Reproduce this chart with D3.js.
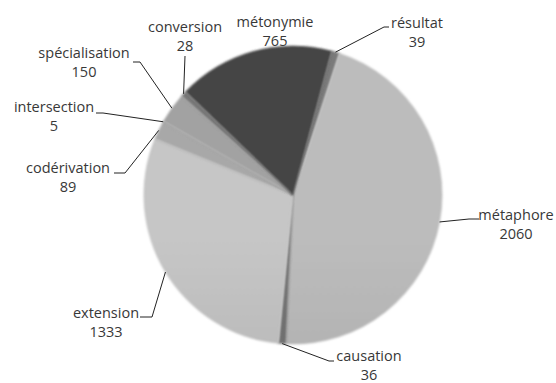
<!DOCTYPE html>
<html>
<head>
<meta charset="utf-8">
<script src="https://cdn.jsdelivr.net/npm/d3@7"></script>
<style>
  body { margin: 0; background: #fff; }
  svg { display: block; }
  text { font-family: 'Open Sans', sans-serif; font-size: 14.5px; fill: #383838; }
</style>
</head>
<body>
<svg id="chart" width="556" height="383"></svg>
<script>
// chart data, clockwise from the top
const categories = ['résultat', 'métaphore', 'causation', 'extension', 'codérivation',
  'intersection', 'spécialisation', 'conversion', 'métonymie']
const counts = [39, 2060, 36, 1333, 89, 5, 150, 28, 765]

// slice greys (top, bottom of the gradient)
const shades = {
  'résultat': ['#7a7a7a', '#666'],
  'métaphore': ['#bcbcbc', '#a4a4a4'],
  'causation': ['#777', '#606060'],
  'extension': ['#c6c6c6', '#a9a9a9'],
  'codérivation': ['#a8a8a8', '#999'],
  'intersection': ['#8c8c8c', '#808080'],
  'spécialisation': ['#a2a2a2', '#909090'],
  'conversion': ['#777', '#6a6a6a'],
  'métonymie': ['#444', '#353535']
}

// label placement: text centre, and the leader elbow / end (null = no leader)
const labelSpots = {
  'résultat': { x: 417, y: 23, line: [[384, 27], [389, 27]] },
  'métaphore': { x: 516, y: 215, line: [[469, 219], [479, 219]] },
  'causation': { x: 369, y: 356, line: [[329, 361], [334, 361]] },
  'extension': { x: 106, y: 313, line: [[152, 317], [140, 317]] },
  'codérivation': { x: 68, y: 168, line: [[125, 173], [114, 173]] },
  'intersection': { x: 54, y: 107, line: [[103, 113], [96, 113]] },
  'spécialisation': { x: 84, y: 53, line: [[140, 62], [133, 62]] },
  'conversion': { x: 185, y: 27, line: [[185, 56]] },
  'métonymie': { x: 275, y: 22, line: null }
}
const lineGap = 19

const cx = 293, cy = 195, radius = 149
const startAngle = 15 * Math.PI / 180

const data = categories.map((c, i) => ({ name: c, value: counts[i] }))

const svg = d3.select('#chart')
const defs = svg.append('defs')

defs.append('filter').attr('id', 'soft')
  .attr('x', '-10%').attr('y', '-10%').attr('width', '120%').attr('height', '120%')
  .append('feGaussianBlur').attr('stdDeviation', 0.8)

data.forEach((d, i) => {
  const g = defs.append('linearGradient').attr('id', 'grad' + i)
    .attr('gradientUnits', 'userSpaceOnUse')
    .attr('x1', 0).attr('y1', cy - radius).attr('x2', 0).attr('y2', cy + radius)
  g.append('stop').attr('offset', '0%').attr('stop-color', shades[d.name][0])
  g.append('stop').attr('offset', '100%').attr('stop-color', shades[d.name][1])
})

const pie = d3.pie().value(d => d.value).sort(null)
  .startAngle(startAngle).endAngle(startAngle + 2 * Math.PI)
const arcs = pie(data)
const arc = d3.arc().innerRadius(0).outerRadius(radius)

const pieG = svg.append('g').attr('transform', `translate(${cx},${cy})`)
pieG.selectAll('path').data(arcs)
  .enter().append('path')
  .attr('d', arc)
  .attr('fill', (d, i) => `url(#grad${i})`)
  .attr('stroke', (d, i) => shades[d.data.name][1])
  .attr('stroke-width', 0.5)
  .attr('filter', 'url(#soft)')

// leader lines
const edgePoint = d => {
  const a = (d.startAngle + d.endAngle) / 2
  return [cx + radius * Math.sin(a), cy - radius * Math.cos(a)]
}
const lineGen = d3.line()

svg.append('g').selectAll('path')
  .data(arcs.filter(d => labelSpots[d.data.name].line))
  .enter().append('path')
  .attr('d', d => lineGen([edgePoint(d), ...labelSpots[d.data.name].line]))
  .attr('fill', 'none')
  .attr('stroke', '#222')
  .attr('stroke-width', 1)

// labels
const labels = svg.append('g').selectAll('g').data(arcs)
  .enter().append('g')
  .attr('transform', d => `translate(${labelSpots[d.data.name].x},${labelSpots[d.data.name].y})`)

labels.append('text')
  .attr('text-anchor', 'middle').attr('dy', '0.35em')
  .text(d => d.data.name)

labels.append('text')
  .attr('text-anchor', 'middle').attr('y', lineGap).attr('dy', '0.35em')
  .text(d => d.data.value)
</script>
</body>
</html>
